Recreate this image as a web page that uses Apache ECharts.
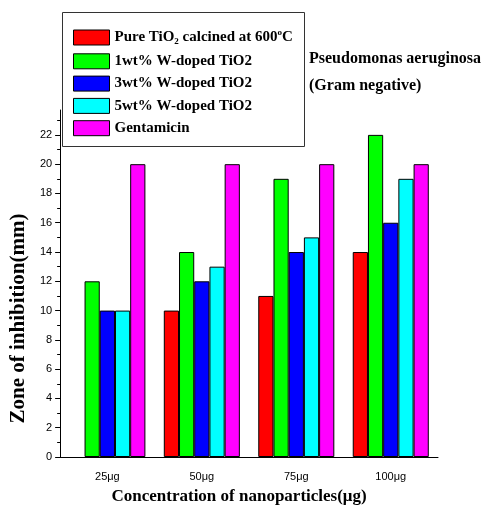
<!DOCTYPE html>
<html>
<head>
<meta charset="utf-8">
<script src="https://cdn.jsdelivr.net/npm/echarts@6/dist/echarts.min.js"></script>
<style>
  html, body { margin: 0; padding: 0; background: #fff; }
  #chart { width: 482px; height: 513px; }
</style>
</head>
<body>
<div id="chart"></div>
<script>
// Zone of inhibition against Pseudomonas aeruginosa
const categories = ['25\u03bcg', '50\u03bcg', '75\u03bcg', '100\u03bcg'];
const seriesNames = [
  'Pure TiO2 calcined at 600\u00b0C',
  '1wt% W-doped TiO2',
  '3wt% W-doped TiO2',
  '5wt% W-doped TiO2',
  'Gentamicin'
];
const pureTiO2 = [null, 10, 11, 14];
const w1 = [12, 14, 19, 22];
const w3 = [10, 12, 14, 16];
const w5 = [10, 13, 15, 19];
const gentamicin = [20, 20, 20, 20];
const seriesValues = [pureTiO2, w1, w3, w5, gentamicin];
const seriesColors = ['#ff0000', '#00ff00', '#0000ff', '#00ffff', '#ff00ff'];
const majorTicks = [0, 2, 4, 6, 8, 10, 12, 14, 16, 18, 20, 22];
const minorTicks = [1, 3, 5, 7, 9, 11, 13, 15, 17, 19, 21, 23];

const serif = '"Liberation Serif", "Times New Roman", Times, serif';
const sans = '"Liberation Sans", Arial, Helvetica, sans-serif';

const chart = echarts.init(document.getElementById('chart'), null, { renderer: 'canvas' });

const series = seriesNames.map((name, i) => ({
  name: name,
  type: 'bar',
  xAxisIndex: 0,
  yAxisIndex: 0,
  data: seriesValues[i],
  barGap: '0%',
  barCategoryGap: '19.5%',
  itemStyle: { color: seriesColors[i], borderColor: '#000', borderWidth: 1 }
}));

chart.setOption({
  animation: false,
  backgroundColor: '#fff',
  title: {
    text: 'Pseudomonas aeruginosa\n(Gram negative)',
    left: 309,
    top: 45,
    padding: 0,
    textStyle: { fontFamily: serif, fontWeight: 'bold', fontSize: 16, lineHeight: 27, color: '#000' }
  },
  legend: {
    orient: 'vertical',
    left: 73,
    top: 28,
    padding: 0,
    icon: 'rect',
    itemWidth: 36,
    itemHeight: 15,
    itemGap: 6.3,
    itemStyle: { borderColor: '#000', borderWidth: 1 },
    data: seriesNames,
    formatter: function (name) {
      if (name === seriesNames[0]) {
        return 'Pure TiO{sub|2} calcined at 600{sup|o}C';
      }
      return name;
    },
    textStyle: {
      fontFamily: serif, fontWeight: 'bold', fontSize: 15, lineHeight: 15, color: '#000',
      rich: {
        sub: { fontFamily: serif, fontWeight: 'bold', fontSize: 9, lineHeight: 15, padding: [9, 0, 0, 0], color: '#000' },
        sup: { fontFamily: serif, fontWeight: 'bold', fontSize: 9, lineHeight: 15, padding: [0, 0, 10, 0], color: '#000' }
      }
    }
  },
  graphic: [{
    type: 'rect',
    shape: { x: 62.5, y: 12.5, width: 242, height: 134 },
    style: { fill: 'none', stroke: '#333', lineWidth: 1 },
    z: 10
  }],
  grid: { left: 57, right: 44, top: 110, bottom: 56 },
  xAxis: [{
    type: 'category',
    data: categories,
    name: 'Concentration of nanoparticles(\u03bcg)',
    nameLocation: 'middle',
    nameGap: 31,
    nameTextStyle: { fontFamily: serif, fontWeight: 'bold', fontSize: 17, color: '#000', padding: [0, 20, 0, 0] },
    axisLine: { lineStyle: { color: '#000', width: 1 } },
    axisTick: { alignWithLabel: true, length: 5, lineStyle: { color: '#000' } },
    axisLabel: { fontFamily: sans, fontSize: 11, color: '#000', margin: 14 }
  }, {
    type: 'category',
    data: categories,
    position: 'bottom',
    axisLine: { show: false },
    axisTick: { length: 3, lineStyle: { color: '#000' } },
    axisLabel: { show: false }
  }],
  yAxis: [{
    type: 'value',
    min: 0,
    max: 23.7,
    interval: 2,
    name: 'Zone of inhibition(mm)',
    nameLocation: 'middle',
    nameGap: 28,
    nameTextStyle: { fontFamily: serif, fontWeight: 'bold', fontSize: 21, color: '#000', padding: [0, 70, 0, 0] },
    axisLine: { show: true, lineStyle: { color: '#000', width: 1 } },
    axisTick: { show: true, length: 5, customValues: majorTicks, lineStyle: { color: '#000' } },
    axisLabel: { fontFamily: sans, fontSize: 11, color: '#000', margin: 8, customValues: majorTicks },
    splitLine: { show: false }
  }, {
    type: 'value',
    min: 0,
    max: 23.7,
    interval: 2,
    position: 'left',
    offset: 0,
    axisLine: { show: false },
    axisTick: { show: true, length: 3, customValues: minorTicks, lineStyle: { color: '#000' } },
    axisLabel: { show: false },
    splitLine: { show: false }
  }],
  series: series
});
</script>
</body>
</html>
